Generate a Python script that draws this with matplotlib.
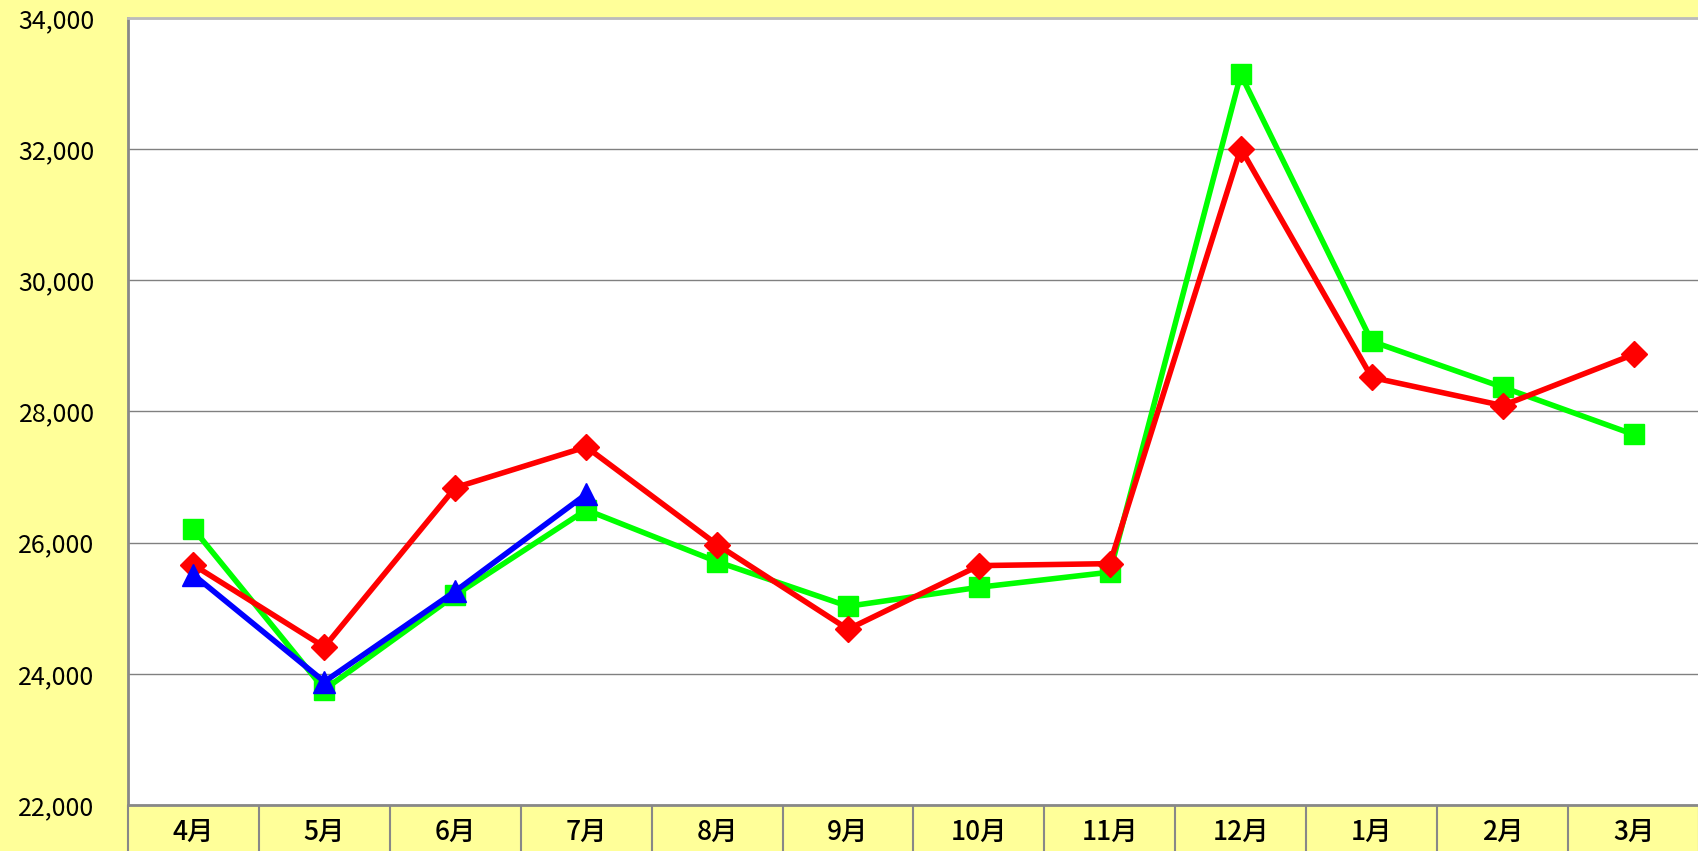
import numpy as np
import matplotlib
matplotlib.use('Agg')
import matplotlib.pyplot as plt
from matplotlib.ticker import FuncFormatter, FixedLocator

plt.rcParams['font.family'] = ['Noto Sans CJK JP', 'DejaVu Sans']

# data
months = ['4月', '5月', '6月', '7月', '8月', '9月', '10月', '11月', '12月', '1月', '2月', '3月']
red_vals = [25660, 24410, 26840, 27460, 25970, 24680, 25650, 25680, 32010, 28520, 28090, 28870]
green_vals = [26210, 23760, 25200, 26500, 25710, 25030, 25320, 25550, 33140, 29070, 28370, 27650]
blue_vals = [25510, 23880, 25260, 26740]

bg = '#FFFF99'

fig = plt.figure(figsize=(16.99, 8.51), dpi=100, facecolor=bg)
ax = fig.add_axes([128 / 1699, 1 - 805 / 851, 1 - 128 / 1699, (805 - 18) / 851])
ax.set_facecolor('white')

x = np.arange(len(months))
ax.plot(x, green_vals, color='#00FF00', lw=4, marker='s', ms=15, zorder=3)
ax.plot(x, red_vals, color='#FF0000', lw=4, marker='D', ms=13, zorder=4)
ax.plot(x[:len(blue_vals)], blue_vals, color='#0000FF', lw=4, marker='^', ms=16, zorder=5)

ax.set_xlim(-0.5, len(months) - 0.5)
ax.set_ylim(22000, 34000)
ax.set_yticks(np.arange(22000, 34001, 2000))
ax.yaxis.set_major_formatter(FuncFormatter(lambda v, p: f'{int(v):,}'))
ax.grid(axis='y', color='#808080', lw=1)
ax.set_axisbelow(True)

ax.set_xticks(x)
ax.set_xticklabels(months)
ax.xaxis.set_minor_locator(FixedLocator(np.arange(-0.5, len(months), 1)))
ax.tick_params(axis='x', which='major', length=0, pad=10, labelsize=19)
ax.tick_params(axis='x', which='minor', length=34, width=1.5, color='#888888', direction='out')
ax.tick_params(axis='y', length=0, pad=24, labelsize=18)
for lbl in ax.get_xticklabels():
    lbl.set_fontweight('medium')

for s in ['left', 'bottom']:
    ax.spines[s].set_color('#888888')
    ax.spines[s].set_linewidth(2)
ax.spines['top'].set_color('#bbbbbb')
ax.spines['top'].set_linewidth(2)
ax.spines['right'].set_visible(False)

fig.savefig('out.png', dpi=100, facecolor=bg)
